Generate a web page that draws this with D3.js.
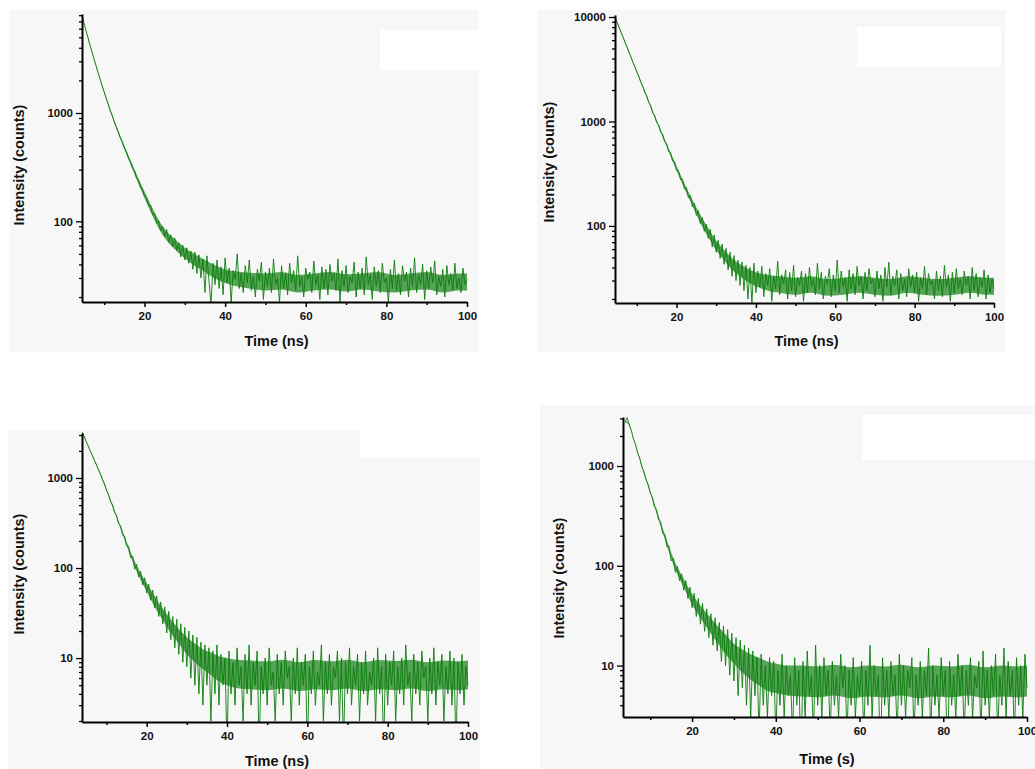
<!DOCTYPE html>
<html>
<head>
<meta charset="utf-8">
<script src="https://cdn.jsdelivr.net/npm/d3@7"></script>
<style>
  body { margin: 0; background: #fff; }
  svg { display: block; font-family: "Liberation Sans", Arial, sans-serif; }
</style>
</head>
<body>
<svg id="chart" width="1035" height="769"></svg>
<script>
// sample times (ns), 0.5 ns bins
const timeNs = [
  4, 4.5, 5, 5.5, 6, 6.5, 7, 7.5, 8, 8.5, 9, 9.5,
  10, 10.5, 11, 11.5, 12, 12.5, 13, 13.5, 14, 14.5, 15, 15.5, 16, 16.5, 17, 17.5, 18, 18.5, 19, 19.5,
  20, 20.5, 21, 21.5, 22, 22.5, 23, 23.5, 24, 24.5, 25, 25.5, 26, 26.5, 27, 27.5, 28, 28.5, 29, 29.5,
  30, 30.5, 31, 31.5, 32, 32.5, 33, 33.5, 34, 34.5, 35, 35.5, 36, 36.5, 37, 37.5, 38, 38.5, 39, 39.5,
  40, 40.5, 41, 41.5, 42, 42.5, 43, 43.5, 44, 44.5, 45, 45.5, 46, 46.5, 47, 47.5, 48, 48.5, 49, 49.5,
  50, 50.5, 51, 51.5, 52, 52.5, 53, 53.5, 54, 54.5, 55, 55.5, 56, 56.5, 57, 57.5, 58, 58.5, 59, 59.5,
  60, 60.5, 61, 61.5, 62, 62.5, 63, 63.5, 64, 64.5, 65, 65.5, 66, 66.5, 67, 67.5, 68, 68.5, 69, 69.5,
  70, 70.5, 71, 71.5, 72, 72.5, 73, 73.5, 74, 74.5, 75, 75.5, 76, 76.5, 77, 77.5, 78, 78.5, 79, 79.5,
  80, 80.5, 81, 81.5, 82, 82.5, 83, 83.5, 84, 84.5, 85, 85.5, 86, 86.5, 87, 87.5, 88, 88.5, 89, 89.5,
  90, 90.5, 91, 91.5, 92, 92.5, 93, 93.5, 94, 94.5, 95, 95.5, 96, 96.5, 97, 97.5, 98, 98.5, 99, 99.5,
  100
];

// counts (top-left, top-right, bottom-left, bottom-right)
const countsA = [
  9300, 7900, 6750, 5720, 4930, 4200, 3640, 3120, 2720, 2340, 2060, 1775,
  1565, 1362, 1208, 1055, 945, 828, 745, 668, 590, 541, 476, 440, 385, 358, 312, 296, 252, 241, 206, 199,
  170, 165, 139, 140, 115, 118, 96, 101, 82, 90, 72, 84, 64, 75, 58, 70, 54, 63, 47, 60,
  44, 57, 41, 53, 36, 52, 33, 49, 30, 45, 22, 48, 28, 17, 41, 26, 44, 24, 38, 21,
  46, 27, 37, 18, 35, 29, 50, 24, 33, 22, 39, 27, 44, 23, 31, 20, 36, 28, 42, 19,
  34, 25, 37, 22, 45, 26, 30, 18, 39, 24, 33, 21, 41, 27, 35, 23, 48, 25, 31, 20,
  37, 29, 34, 22, 43, 26, 32, 19, 38, 24, 36, 21, 40, 28, 33, 23, 45, 18, 35, 25,
  39, 22, 31, 27, 42, 20, 34, 24, 37, 21, 47, 26, 32, 19, 38, 25, 35, 22, 41, 27,
  30, 18, 36, 24, 44, 23, 33, 21, 39, 28, 34, 20, 37, 25, 46, 22, 32, 26, 40, 19,
  35, 24, 38, 27, 43, 21, 31, 25, 36, 20, 39, 26, 33, 23, 41, 24, 30, 22, 37, 26,
  29
];
const countsB = [
  11200, 10000, 8920, 8060, 7160, 6470, 5740, 5200, 4600, 4180, 3690, 3360,
  2960, 2710, 2370, 2180, 1900, 1760, 1520, 1420, 1210, 1140, 975, 930, 790, 758, 640, 617, 518, 505, 420, 413,
  340, 338, 278, 280, 226, 233, 186, 195, 153, 165, 126, 140, 105, 120, 89, 104, 76, 93, 63, 82,
  56, 73, 49, 67, 43, 61, 38, 56, 33, 52, 30, 47, 27, 45, 24, 42, 20, 40, 18, 44,
  23, 37, 26, 41, 21, 35, 27, 39, 19, 33, 25, 46, 22, 34, 28, 38, 20, 36, 24, 42,
  21, 32, 27, 37, 19, 35, 23, 40, 26, 31, 22, 44, 25, 36, 20, 33, 28, 39, 21, 34,
  24, 47, 23, 37, 26, 32, 19, 38, 25, 35, 22, 41, 27, 33, 20, 36, 24, 39, 28, 31,
  21, 37, 25, 34, 19, 40, 26, 45, 22, 33, 27, 38, 20, 35, 24, 31, 21, 39, 26, 34,
  23, 36, 19, 32, 25, 41, 22, 35, 27, 30, 20, 37, 24, 33, 21, 42, 26, 34, 19, 36,
  23, 39, 25, 31, 22, 37, 27, 33, 20, 40, 24, 35, 21, 32, 26, 38, 20, 34, 23, 31,
  25
];
const countsC = [
  3230, 2850, 2510, 2250, 1980, 1780, 1560, 1400, 1230, 1110, 965, 862,
  728, 656, 549, 502, 414, 385, 311, 296, 232, 226, 176, 175, 130, 135, 97, 110, 80, 92, 65, 78,
  53, 66, 44, 57, 36, 49, 29, 42, 24, 37, 19, 33, 16, 29, 13, 27, 11, 24, 9, 22,
  8, 20, 6, 18, 5, 17, 4, 15, 3, 14, 5, 13, 2, 12, 4, 14, 3, 11, 5, 10,
  1, 12, 4, 9, 3, 13, 5, 8, 2, 11, 4, 14, 3, 9, 5, 12, 1, 8, 4, 10,
  3, 13, 5, 7, 2, 11, 4, 9, 3, 12, 6, 8, 2, 10, 4, 13, 3, 9, 5, 11,
  1, 8, 4, 12, 3, 7, 5, 14, 2, 9, 4, 11, 3, 8, 6, 12, 2, 10, 1, 9,
  4, 13, 3, 8, 5, 11, 2, 9, 4, 12, 3, 7, 5, 10, 2, 13, 4, 8, 1, 11,
  3, 9, 5, 12, 2, 8, 4, 10, 3, 14, 5, 7, 2, 11, 4, 9, 3, 12, 6, 8,
  2, 10, 4, 13, 3, 9, 5, 11, 2, 8, 4, 12, 3, 10, 1, 9, 4, 11, 3, 8,
  5
];
const countsD = [
  2780, 3060, 2580, 2250, 1870, 1640, 1350, 1200, 980, 880, 725, 655,
  535, 490, 392, 366, 288, 275, 211, 206, 155, 156, 112, 119, 86, 98, 71, 83, 57, 71, 47, 61,
  38, 53, 31, 47, 26, 42, 22, 37, 19, 33, 16, 30, 14, 27, 11, 25, 10, 23, 8, 21,
  7, 19, 5, 18, 6, 16, 4, 15, 3, 14, 5, 12, 2, 13, 4, 10, 3, 12, 5, 11,
  2, 9, 4, 13, 3, 10, 5, 8, 2, 12, 4, 9, 1, 11, 3, 14, 5, 8, 2, 16,
  4, 10, 3, 12, 5, 9, 2, 11, 4, 8, 3, 13, 6, 10, 2, 9, 4, 12, 3, 8,
  5, 11, 2, 9, 4, 16, 3, 10, 5, 8, 1, 12, 4, 9, 3, 11, 5, 8, 2, 13,
  4, 10, 3, 9, 6, 12, 2, 8, 4, 11, 3, 9, 5, 15, 2, 10, 4, 8, 3, 12,
  5, 9, 1, 11, 4, 8, 3, 13, 5, 10, 2, 9, 4, 12, 3, 8, 6, 11, 2, 14,
  4, 9, 3, 10, 5, 13, 2, 8, 4, 15, 3, 11, 5, 9, 2, 12, 4, 10, 3, 13,
  6
];

// dense core of each noisy trace (lower / upper edge), read at coarser times
const bandTimes = [4, 5, 6, 8, 10, 12, 14, 16, 18, 20, 22, 24, 26, 28, 30, 32, 34, 36, 38, 40,
  43, 46, 50, 54, 58, 62, 66, 70, 74, 78, 82, 86, 90, 94, 98, 100];
const bandLowA  = [9150, 6620, 4850, 2660, 1530, 912, 575, 374, 246, 164, 112, 80, 63, 53, 45.5, 40, 36, 32, 29, 27,
  25, 24, 23, 23.5, 22, 23, 23.5, 22.5, 23.5, 22.5, 22, 23, 23.5, 22, 23, 23];
const bandHighA = [9450, 6850, 5000, 2760, 1595, 965, 616, 409, 273, 188, 132, 96, 77, 66, 57, 51, 46, 42, 38.5, 36,
  34.5, 33.5, 33, 34, 32, 33, 34, 32.5, 33, 34, 32, 33, 34, 32, 33, 33];
const bandLowB  = [10950, 8780, 7050, 4540, 2930, 1885, 1208, 787, 515, 340, 228, 155, 107, 78, 58.5, 47, 38, 33, 29, 26.5,
  24, 23, 22, 23, 21.5, 22, 23, 22, 21.5, 23, 22, 21.5, 22, 23, 22, 22];
const bandHighB = [11400, 9120, 7330, 4720, 3055, 1975, 1272, 838, 557, 374, 255, 178, 128, 95, 72, 59, 49, 43, 39, 36,
  34, 33, 32, 33, 31, 32, 33, 32, 31, 33, 32, 31, 32, 33, 32, 32];
const bandLowC  = [3160, 2480, 1960, 1215, 720, 413, 235, 134, 82, 55, 37, 26.5, 19, 14.5, 11, 9, 7.5, 6.5, 5.5, 5,
  4.6, 4.5, 4.4, 4.6, 4.3, 4.5, 4.4, 4.6, 4.3, 4.5, 4.4, 4.6, 4.3, 4.5, 4.4, 4.5];
const bandHighC = [3240, 2560, 2020, 1265, 760, 442, 257, 152, 97, 68, 49, 35.5, 27, 21, 17, 14.5, 12.5, 11.5, 10.5, 10,
  9.5, 9.4, 9.2, 9.6, 9, 9.5, 9.2, 9.6, 9, 9.5, 9.3, 9.6, 9, 9.4, 9.2, 9.4];
const bandLowD  = [2750, 2560, 1870, 980, 535, 289, 158, 91, 61, 41, 30, 22.5, 17, 13, 10.5, 8.5, 7.2, 6.3, 5.6, 5.3,
  5, 4.9, 4.8, 5, 4.7, 4.9, 4.8, 5, 4.7, 4.9, 4.8, 5, 4.7, 4.9, 4.8, 4.9];
const bandHighD = [2850, 2660, 1930, 1030, 572, 318, 179, 107, 74, 52, 40, 31.5, 25, 20.5, 16.5, 14.5, 13, 12, 11, 10.5,
  10, 10, 9.8, 10.2, 9.6, 10, 9.8, 10.2, 9.6, 10, 9.8, 10.2, 9.6, 10, 9.8, 10];

const xTickValues = [10, 20, 30, 40, 50, 60, 70, 80, 90, 100];
const xLabelValues = [20, 40, 60, 80, 100];
const yTitle = "Intensity (counts)";
const xTitles = ["Time (ns)", "Time (ns)", "Time (ns)", "Time (s)"];
const yLabelValues = [[100, 1000], [100, 1000, 10000], [10, 100, 1000], [10, 100, 1000]];

// layout of the four panels
const panels = [
  { counts: countsA, low: bandLowA, high: bandHighA, xDomain: [4.5, 100], yDomain: [18, 8200],
    bg: [10, 10, 468, 342], blank: [380, 30, 143, 40],
    l: 82, r: 467, t: 14, b: 302, yTitlePos: [19, 165], xTitleY: 346 },
  { counts: countsB, low: bandLowB, high: bandHighB, xDomain: [4.5, 100], yDomain: [18.3, 10450],
    bg: [537, 10, 468, 342], blank: [857, 27, 144, 40],
    l: 615, r: 994, t: 15, b: 303, yTitlePos: [549, 162], xTitleY: 346 },
  { counts: countsC, low: bandLowC, high: bandHighC, xDomain: [3.9, 100], yDomain: [1.95, 3160],
    bg: [8, 430, 472, 339], blank: [360, 417, 143, 41],
    l: 82, r: 468, t: 433, b: 722, yTitlePos: [19, 574], xTitleY: 766 },
  { counts: countsD, low: bandLowD, high: bandHighD, xDomain: [3.5, 100], yDomain: [3.05, 3100],
    bg: [540, 405, 495, 364], blank: [862, 415, 173, 45],
    l: 623, r: 1027, t: 417, b: 717, yTitlePos: [559, 578], xTitleY: 764 }
];

const svg = d3.select("#chart");
const lineColor = "#0b7d0b";

panels.forEach(function (p, k) {
  const g = svg.append("g");

  // panel background and the blanked legend box
  g.append("rect").attr("x", p.bg[0]).attr("y", p.bg[1]).attr("width", p.bg[2]).attr("height", p.bg[3])
    .attr("fill", "#f7f7f7");
  g.append("rect").attr("x", p.blank[0]).attr("y", p.blank[1])
    .attr("width", p.blank[2]).attr("height", p.blank[3]).attr("fill", "#ffffff");

  const x = d3.scaleLinear().domain(p.xDomain).range([p.l, p.r]);
  const y = d3.scaleLog().domain(p.yDomain).range([p.b, p.t]);

  const clipId = "clip" + k;
  g.append("clipPath").attr("id", clipId)
    .append("rect").attr("x", p.l).attr("y", p.t - 2).attr("width", p.r - p.l + 2).attr("height", p.b - p.t + 2);

  // dense core of the trace
  const band = bandTimes.map((t, i) => [t, p.low[i], p.high[i]]);
  g.append("path")
    .datum(band)
    .attr("clip-path", "url(#" + clipId + ")")
    .attr("fill", "#137f13")
    .attr("fill-opacity", 0.7)
    .attr("d", d3.area().curve(d3.curveMonotoneX)
      .x(d => x(d[0])).y0(d => y(d[1])).y1(d => y(d[2])));

  // the measured trace
  const pts = timeNs.map((t, i) => [t, p.counts[i]]).filter(d => d[1] > 0);
  g.append("path")
    .datum(pts)
    .attr("clip-path", "url(#" + clipId + ")")
    .attr("fill", "none")
    .attr("stroke", lineColor)
    .attr("stroke-width", 0.9)
    .attr("stroke-linejoin", "round")
    .attr("d", d3.line().x(d => x(d[0])).y(d => y(d[1])));

  // y axis (log, minor ticks unlabeled)
  const labels = yLabelValues[k];
  const isMajor = d => labels.some(v => Math.abs(v - d) < 1e-6);
  const yAxis = d3.axisLeft(y)
    .tickValues(y.ticks())
    .tickSizeOuter(0)
    .tickPadding(3)
    .tickFormat(d => isMajor(d) ? d : "");
  const yg = g.append("g").attr("transform", "translate(" + p.l + ",0)").call(yAxis);
  yg.selectAll(".tick line")
    .attr("x2", d => isMajor(d) ? -6 : -3)
    .attr("stroke-width", 1.3);

  // x axis
  const xAxis = d3.axisBottom(x)
    .tickValues(xTickValues)
    .tickSizeOuter(0)
    .tickPadding(4)
    .tickFormat(d => xLabelValues.includes(d) ? d : "");
  const xg = g.append("g").attr("transform", "translate(0," + p.b + ")").call(xAxis);
  xg.selectAll(".tick line")
    .attr("y2", d => xLabelValues.includes(d) ? 5 : 3)
    .attr("stroke-width", 1.5);

  [yg, xg].forEach(function (ax) {
    ax.select(".domain").attr("stroke", "#000").attr("stroke-width", 2);
    ax.selectAll(".tick line").attr("stroke", "#000");
    ax.selectAll("text")
      .attr("font-family", "'Liberation Sans', Arial, sans-serif")
      .attr("font-size", 11.5)
      .attr("font-weight", "bold")
      .attr("fill", "#111");
  });

  // axis titles
  g.append("text")
    .attr("transform", "translate(" + p.yTitlePos[0] + "," + p.yTitlePos[1] + ") rotate(-90)")
    .attr("text-anchor", "middle")
    .attr("dy", "0.35em")
    .attr("font-size", 14.5)
    .attr("font-weight", "bold")
    .attr("fill", "#111")
    .text(yTitle);

  g.append("text")
    .attr("x", (p.l + p.r) / 2 + 2)
    .attr("y", p.xTitleY)
    .attr("text-anchor", "middle")
    .attr("font-size", 14.5)
    .attr("font-weight", "bold")
    .attr("fill", "#111")
    .text(xTitles[k]);
});
</script>
</body>
</html>
